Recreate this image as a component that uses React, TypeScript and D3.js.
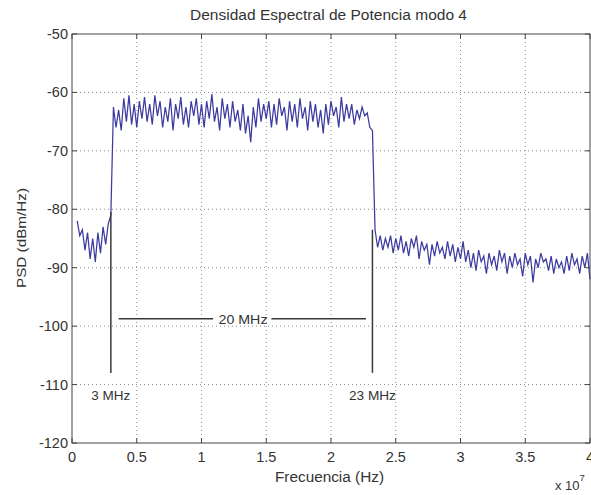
import React from "react";
import * as d3 from "d3";

const W = 591;
const H = 495;

const xTicks = [0, 0.5e7, 1e7, 1.5e7, 2e7, 2.5e7, 3e7, 3.5e7, 4e7];
const xTickLabels = ["0", "0.5", "1", "1.5", "2", "2.5", "3", "3.5", "4"];
const yTicks = [-50, -60, -70, -80, -90, -100, -110, -120];

// sample grid (Hz)
const STEP = 0.2e6;
const lowStart = 0.4e6;
const bandStart = 3.2e6;
const upperStart = 23.4e6;

// 0.4 .. 3.0 MHz
const lowValues = [-82, -84.5, -83.5, -87, -84, -88.5, -85, -89, -84, -87.5, -83, -86, -82.5, -81];

// 3.2 .. 23.2 MHz
const bandValues = [
  -62.5, -66, -63, -66.5, -61, -65, -60.5, -65.5, -62, -66,
  -61.5, -64.5, -60.8, -65, -62, -65.5, -60.5, -64, -61.5, -66,
  -62.5, -65, -61, -66.5, -62, -64.5, -60.8, -65.5, -62.5, -66,
  -61.5, -64, -61, -65.5, -62, -66, -61.5, -64.5, -60.3, -65,
  -62.5, -66.5, -61, -64.5, -62, -66, -61.5, -65, -63, -66.5,
  -62, -67, -64, -68.5, -62.5, -66, -61, -65, -62, -64.5,
  -61.5, -66, -62, -65.5, -61, -64, -62.5, -66.5, -61.5, -65,
  -62, -66, -61, -64.5, -62.5, -66.5, -61.5, -65, -62, -66,
  -63, -67, -62, -65.5, -61.5, -64, -62.5, -66, -60.8, -65,
  -62, -64.5, -62, -65.5, -63, -64.5, -62.5, -64, -63.5, -66,
  -66.5,
];

// 23.4 .. 40.0 MHz
const upperValues = [
  -83.5, -86.5, -84.5, -87, -85, -86.5, -84.5, -87.5, -85, -87,
  -84.5, -87.5, -85.5, -88, -85, -86.5, -84.5, -88.5, -85.5, -87,
  -86, -89.5, -86, -88, -85.5, -87.5, -86.5, -88.5, -85.5, -88,
  -86, -89, -86.5, -88.5, -85.5, -89, -87, -90, -87.5, -90.5,
  -87, -89, -88, -91, -87.5, -89.5, -88, -90.5, -87, -89,
  -87.5, -91, -88, -90, -87.5, -89.5, -88.5, -91.5, -87.5, -89.5,
  -88, -92.5, -88.5, -90, -87.5, -89, -88.5, -90.5, -88, -91,
  -88.5, -90, -89, -91, -88, -90.5, -87.5, -89.5, -88.5, -91,
  -88, -90, -87.5, -92,
];

type Pt = { f: number; v: number };
const series: Pt[] = [
  ...lowValues.map((v, i) => ({ f: lowStart + i * STEP, v })),
  ...bandValues.map((v, i) => ({ f: bandStart + i * STEP, v })),
  ...upperValues.map((v, i) => ({ f: upperStart + i * STEP, v })),
];

// annotations
const markerLeft = { f: 3.0e6, top: -80.5, bottom: -108, label: "3 MHz" };
const markerRight = { f: 23.2e6, top: -83.5, bottom: -108, label: "23 MHz" };
const spanLevel = -98.75;
const spanSegs = [
  [3.6e6, 10.9e6],
  [15.4e6, 22.7e6],
];
const spanLabel = "20 MHz";

export default function App() {
  const left = 72;
  const right = 590;
  const top = 34;
  const bottom = 443;

  const x = d3.scaleLinear().domain([0, 4e7]).range([left, right]);
  const y = d3.scaleLinear().domain([-120, -50]).range([bottom, top]);

  const line = d3
    .line<Pt>()
    .x((d) => x(d.f))
    .y((d) => y(d.v));

  const font = "Liberation Sans, Arial, sans-serif";
  const tickCol = "#333";
  const gridCol = "#8a8a8a";

  return (
    <svg
      width={W}
      height={H}
      style={{ position: "absolute", left: 0, top: 0, background: "#fff" }}
      fontFamily={font}
    >
      <rect x={0} y={0} width={W} height={H} fill="#fff" />
      {/* grid */}
      {xTicks.slice(1, -1).map((t) => (
        <line key={"gx" + t} x1={x(t)} x2={x(t)} y1={top} y2={bottom} stroke={gridCol} strokeWidth={1} strokeDasharray="1 3" />
      ))}
      {yTicks.slice(1, -1).map((t) => (
        <line key={"gy" + t} x1={left} x2={right} y1={y(t)} y2={y(t)} stroke={gridCol} strokeWidth={1} strokeDasharray="1 3" />
      ))}

      {/* data */}
      <path d={line(series) || ""} fill="none" stroke="#3c3ca0" strokeWidth={1.25} />

      {/* annotations */}
      {[markerLeft, markerRight].map((m) => (
        <g key={m.label}>
          <line x1={x(m.f)} x2={x(m.f)} y1={y(m.top)} y2={y(m.bottom)} stroke="#3a3a3a" strokeWidth={1.5} />
          <text x={x(m.f)} y={400} fontSize={13} fill="#333" textAnchor="middle"
            textLength={m.label.length === 5 ? 39 : 47} lengthAdjust="spacingAndGlyphs">
            {m.label}
          </text>
        </g>
      ))}
      {spanSegs.map((s, i) => (
        <line key={"sp" + i} x1={x(s[0])} x2={x(s[1])} y1={y(spanLevel)} y2={y(spanLevel)} stroke="#3a3a3a" strokeWidth={1.5} />
      ))}
      <text x={243} y={y(spanLevel) + 5} fontSize={13} fill="#333" textAnchor="middle"
        textLength={49} lengthAdjust="spacingAndGlyphs">
        {spanLabel}
      </text>

      {/* box */}
      <rect x={left} y={top} width={right - left} height={bottom - top} fill="none" stroke="#444" strokeWidth={1} />

      {/* ticks */}
      {xTicks.map((t, i) => (
        <g key={"xt" + t}>
          <line x1={x(t)} x2={x(t)} y1={bottom} y2={bottom - 5} stroke="#444" />
          <line x1={x(t)} x2={x(t)} y1={top} y2={top + 5} stroke="#444" />
          <text x={x(t)} y={bottom + 19} fontSize={14.5} fill={tickCol} textAnchor="middle">
            {xTickLabels[i]}
          </text>
        </g>
      ))}
      {yTicks.map((t) => (
        <g key={"yt" + t}>
          <line x1={left} x2={left + 5} y1={y(t)} y2={y(t)} stroke="#444" />
          <line x1={right} x2={right - 5} y1={y(t)} y2={y(t)} stroke="#444" />
          <text x={left - 4} y={y(t) + 5} fontSize={14.5} fill={tickCol} textAnchor="end">
            {String(t)}
          </text>
        </g>
      ))}

      {/* labels */}
      <text x={328.5} y={20} fontSize={14} fill="#333" textAnchor="middle"
        textLength={277} lengthAdjust="spacingAndGlyphs">
        Densidad Espectral de Potencia modo 4
      </text>
      <text x={329.5} y={482} fontSize={14} fill="#333" textAnchor="middle"
        textLength={109} lengthAdjust="spacingAndGlyphs">
        Frecuencia (Hz)
      </text>
      <text transform={`translate(26, 238) rotate(-90)`} fontSize={13.5} fill="#333" textAnchor="middle"
        textLength={100} lengthAdjust="spacingAndGlyphs">
        PSD (dBm/Hz)
      </text>
      <text x={555} y={490} fontSize={13} fill="#333">
        x 10
        <tspan dy={-9} fontSize={9.5}>7</tspan>
      </text>
    </svg>
  );
}
